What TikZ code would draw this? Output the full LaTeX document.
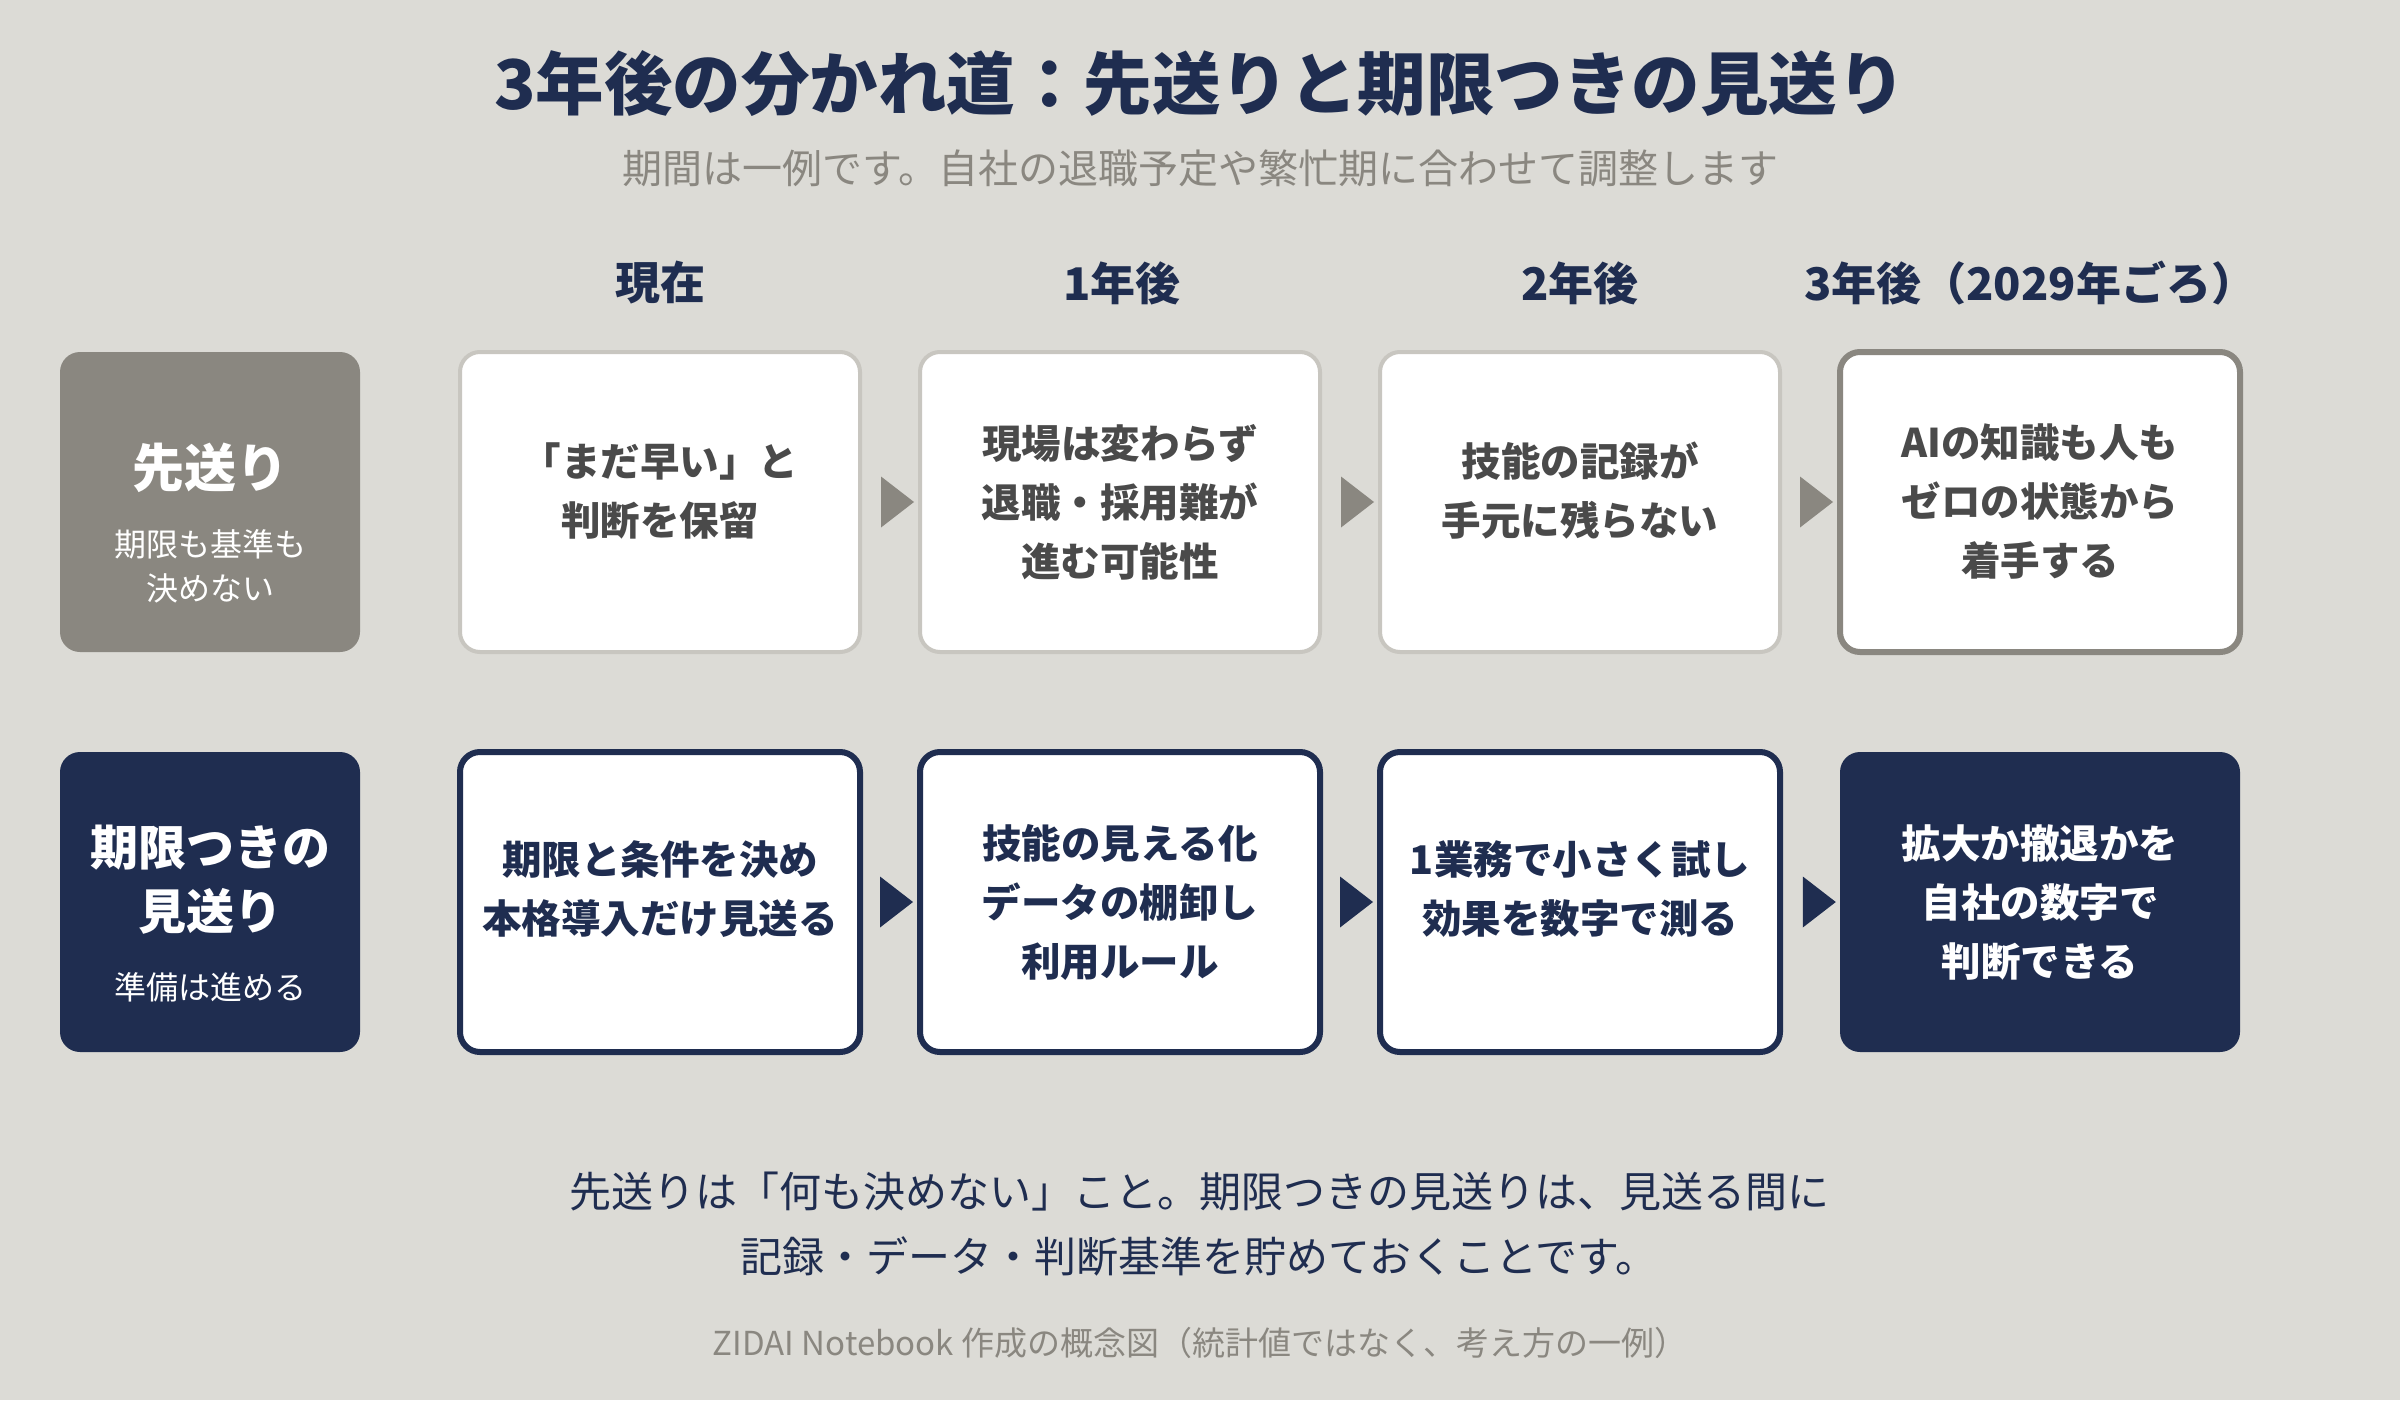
\documentclass[tikz,border=0pt]{standalone}
\usepackage{fontspec}
\usepackage{xcolor}
\usepackage{tikz}
\usetikzlibrary{calc}
\setmainfont{Noto Sans CJK JP}
\definecolor{zdbg}{RGB}{220, 219, 214}
\definecolor{zdnavy}{RGB}{31, 45, 80}
\definecolor{zdgray}{RGB}{138, 135, 128}
\definecolor{zdline}{RGB}{200, 198, 192}
\definecolor{zdtext}{RGB}{74, 74, 74}

\begin{document}
\begin{tikzpicture}[x=1pt, y=-1pt,
  head/.style={font=\fontsize{45}{52}\selectfont\bfseries, text=zdnavy},
  card/.style={rounded corners=20pt, minimum width=400pt, minimum height=300pt, inner sep=0pt},
  laterbox/.style={card, draw=zdline, line width=4pt, fill=white},
  laterend/.style={card, draw=zdgray, line width=6pt, fill=white},
  waitbox/.style={card, draw=zdnavy, line width=6pt, fill=white},
  waitend/.style={card, fill=zdnavy},
  sidebox/.style={rounded corners=20pt, minimum width=300pt, minimum height=300pt, inner sep=0pt},
  cardtext/.style={align=center, font=\fontsize{39.5}{59}\selectfont\bfseries}]
\useasboundingbox (0,0) rectangle (2400,1400);
\fill[zdbg] (0,0) rectangle (2400,1400);

% Title
\node[font=\fontsize{68.5}{78}\selectfont\bfseries, text=zdnavy] (title) at (1200,84) {3年後の分かれ道：先送りと期限つきの見送り};
\node[font=\fontsize{40}{46}\selectfont, text=zdgray] (subtitle) at (1200,168) {期間は一例です。自社の退職予定や繁忙期に合わせて調整します};

% Column heads
\node[head] (h0) at (660,283) {現在};
\node[head] (h1) at (1122,283) {1年後};
\node[head] (h2) at (1580,283) {2年後};
\node[head] (h3) at (2030,283) {3年後（2029年ごろ）};

% Row 1: putting it off
\node[sidebox, fill=zdgray] (later) at (210,502) {};
\node[font=\fontsize{52}{60}\selectfont\bfseries, text=white] at ([yshift=34pt]later.center) {先送り};
\node[align=center, font=\fontsize{32}{44}\selectfont, text=white] at ([yshift=-64pt]later.center) {期限も基準も\\決めない};

\node[laterbox] (l0) at (660,502) {};
\node[laterbox] (l1) at (1120,502) {};
\node[laterbox] (l2) at (1580,502) {};
\node[laterend] (l3) at (2040,502) {};
\node[cardtext, text=zdtext] at ([yshift=11pt]l0.center) {「まだ早い」と\\判断を保留};
\node[cardtext, text=zdtext] at (l1.center) {現場は変わらず\\退職・採用難が\\進む可能性};
\node[cardtext, text=zdtext] at ([yshift=11pt]l2.center) {技能の記録が\\手元に残らない};
\node[cardtext, text=zdtext] at (l3.center) {AIの知識も人も\\ゼロの状態から\\着手する};

\fill[zdgray] ([xshift=-4pt]l1.west) -- ++(-33,-25.5) -- ++(0,51) -- cycle;
\fill[zdgray] ([xshift=-4pt]l2.west) -- ++(-33,-25.5) -- ++(0,51) -- cycle;
\fill[zdgray] ([xshift=-4pt]l3.west) -- ++(-33,-25.5) -- ++(0,51) -- cycle;

% Row 2: waiting with a deadline
\node[sidebox, fill=zdnavy] (wait) at (210,902) {};
\node[align=center, font=\fontsize{48}{64}\selectfont\bfseries, text=white] at ([yshift=22pt]wait.center) {期限つきの\\見送り};
\node[font=\fontsize{32}{40}\selectfont, text=white] at ([yshift=-85pt]wait.center) {準備は進める};

\node[waitbox] (w0) at (660,902) {};
\node[waitbox] (w1) at (1120,902) {};
\node[waitbox] (w2) at (1580,902) {};
\node[waitend] (w3) at (2040,902) {};
\node[cardtext, text=zdnavy] at ([yshift=13pt]w0.center) {期限と条件を決め\\本格導入だけ見送る};
\node[cardtext, text=zdnavy] at (w1.center) {技能の見える化\\データの棚卸し\\利用ルール};
\node[cardtext, text=zdnavy] at ([yshift=13pt]w2.center) {1業務で小さく試し\\効果を数字で測る};
\node[cardtext, text=white] at (w3.center) {拡大か撤退かを\\自社の数字で\\判断できる};

\fill[zdnavy] ([xshift=-4pt]w1.west) -- ++(-33,-25.5) -- ++(0,51) -- cycle;
\fill[zdnavy] ([xshift=-4pt]w2.west) -- ++(-33,-25.5) -- ++(0,51) -- cycle;
\fill[zdnavy] ([xshift=-4pt]w3.west) -- ++(-33,-25.5) -- ++(0,51) -- cycle;

% Summary
\node[align=center, font=\fontsize{42}{65}\selectfont, text=zdnavy] (summary) at (1199,1224) {先送りは「何も決めない」こと。期限つきの見送りは、見送る間に\\記録・データ・判断基準を貯めておくことです。};
\node[font=\fontsize{33}{40}\selectfont, text=zdgray] (credit) at (1200,1343) {ZIDAI Notebook 作成の概念図（統計値ではなく、考え方の一例）};
\end{tikzpicture}
\end{document}
